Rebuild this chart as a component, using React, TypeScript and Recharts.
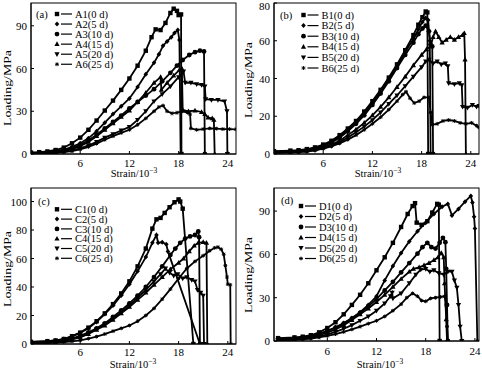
import React from 'react';
import { LineChart, Line, XAxis, YAxis } from 'recharts';

type P = [number, number];

// ---------- Panel (a) ----------
const A1: P[] = [[0,1],[1,1.3],[2,1.8],[3,2.8],[4,4.5],[5,7.5],[6,11.5],[7,17],[8,23.5],[9,30.5],[10,37.5],[11,45],[12,53],[13,62],[14,72.5],[14.7,82],[15.2,87.5],[15.8,87],[16.4,92],[17.0,99],[17.4,102],[17.8,100.5],[18.0,97.5],[18.3,98],[18.35,0]];
const A2: P[] = [[0,0.8],[2,1.3],[3,2],[4,3],[5,5],[6,7.5],[7,11],[8,16],[9,22],[10,28],[11,33.5],[12,39],[13,47],[14,56],[15,64],[15.6,70],[16.1,76],[16.6,79],[17.1,82],[17.5,85],[17.9,87],[18.1,80],[18.25,0]];
const A3: P[] = [[0,0.6],[2,1],[3,1.6],[4,2.5],[5,4],[6,6.5],[7,9.5],[8,13.5],[9,18],[10,22.5],[11,27],[12,32],[13,36.5],[14,41],[15,45.5],[16,51],[17,57],[17.8,62],[18.5,66],[19.3,69.5],[20.0,71.5],[20.6,72.5],[21.1,72],[21.2,0]];
const A4: P[] = [[0,0.5],[2,0.9],[3,1.5],[4,2.3],[5,3.5],[6,5.5],[7,8.5],[8,12.5],[9,17],[10,21.5],[11,26],[12,30.5],[13,36.5],[14,43],[15,50],[15.8,54],[15.9,45],[16.6,50],[17.4,55],[18.1,59],[18.4,60],[18.5,31],[19.2,30],[20.0,30.5],[20.8,29.5],[21.2,28],[21.6,25.5],[22.1,25],[22.3,24],[22.4,0]];
const A5: P[] = [[0,0.3],[2,0.6],[3,1],[4,1.6],[5,2.6],[6,4],[7,6],[8,8.5],[9,11.5],[10,14],[11,16.5],[12,19],[13,24],[14,30],[15,37],[16,42],[17,47.5],[18,54],[18.6,58],[18.8,50],[19.5,50],[20.2,49],[20.8,48.5],[21.2,47.5],[21.3,38.5],[22.0,38],[22.8,38],[23.6,37],[23.9,30],[23.95,0]];
const A6: P[] = [[0,0.3],[2,0.5],[3,0.8],[4,1.3],[5,2],[6,3.3],[7,5],[8,7.3],[9,10],[10,12.5],[11,14.8],[12,17],[13,20.5],[14,25],[15,30],[15.6,33],[16.1,34],[16.6,30],[17.2,28.5],[17.8,29],[18.5,30],[19.1,29],[19.4,28],[19.5,18],[20.2,17],[21,17.5],[21.8,18],[22.6,17.8],[23.4,17.5],[24.2,17.5],[25,17.3]];
const aNames = ['A1(0 d)', 'A2(5 d)', 'A3(10 d)', 'A4(15 d)', 'A5(20 d)', 'A6(25 d)'];

// ---------- Panel (b) ----------
const B1: P[] = [[0,1.5],[2,1.8],[3,2],[4,2.6],[5,3.5],[6,5],[7,7],[8,10],[9,13.5],[10,17.5],[11,22.5],[12,28],[13,34],[14,40.5],[15,47.5],[16,55],[17,63],[17.6,68.5],[18.1,72.5],[18.5,75.5],[18.7,75],[18.8,0]];
const B2: P[] = [[0,1.2],[2,1.5],[3,1.8],[4,2.3],[5,3.2],[6,4.6],[7,6.5],[8,9.3],[9,12.8],[10,16.8],[11,21.5],[12,27],[13,33],[14,39.5],[15,46.5],[16,54],[17,61],[17.6,66],[18.1,70],[18.5,72],[18.8,71],[19.0,60],[19.1,0]];
const B3: P[] = [[0,1],[2,1.3],[3,1.6],[4,2.1],[5,3],[6,4.2],[7,6],[8,8.6],[9,12],[10,16],[11,20.5],[12,26],[13,32],[14,38.5],[15,45.5],[16,52.5],[17,59],[17.6,63.5],[18.1,66.5],[18.5,68],[18.9,65],[19.1,58],[19.3,57],[19.4,0]];
const B4: P[] = [[0,1],[2,1.2],[3,1.4],[4,1.8],[5,2.5],[6,3.5],[7,5],[8,7],[9,10],[10,13],[11,16.5],[12,20.5],[13,25],[14,30],[15,35.5],[16,41],[17,47],[18,52.5],[18.6,55.5],[19.1,57],[19.4,62],[19.7,65],[20.1,62],[20.5,59],[21.0,60.5],[21.5,62],[22.0,60.5],[22.5,62],[23.0,63],[23.2,64],[23.3,50],[23.4,0]];
const B5: P[] = [[0,0.8],[2,1],[3,1.2],[4,1.5],[5,2.1],[6,3],[7,4.4],[8,6.3],[9,8.7],[10,11.5],[11,14.5],[12,18],[13,22],[14,26.5],[15,31],[16,36],[17,41],[18,46],[18.5,49],[18.9,50],[19.4,48],[19.9,49],[20.4,47.5],[20.9,48],[21.2,46.5],[21.3,37.5],[22.0,37],[22.6,37.5],[22.9,36.5],[23.0,25],[23.6,24.5],[24.2,26],[24.7,25],[25,25.5]];
const B6: P[] = [[0,0.5],[2,0.8],[3,1],[4,1.3],[5,1.9],[6,2.8],[7,4],[8,5.6],[9,7.6],[10,10],[11,12.8],[12,16],[13,19.5],[14,23.5],[15,28],[15.7,31.5],[16.1,33],[16.6,29.5],[17.1,27],[17.7,28],[18.3,30],[18.9,30],[19.1,22],[19.3,15.5],[19.9,16],[20.6,17.5],[21.3,18],[22.0,17.5],[22.7,16.5],[23.4,16],[24.1,16.5],[24.7,15],[25,14]];
const bNames = ['B1(0 d)', 'B2(5 d)', 'B3(10 d)', 'B4(15 d)', 'B5(20 d)', 'B6(25 d)'];

// ---------- Panel (c) ----------
const C1: P[] = [[0,1.5],[2,2],[3,2.5],[4,3.5],[5,5.5],[6,8],[7,11.5],[8,16],[9,21.5],[10,28],[11,35.5],[12,44],[13,54.5],[14,67],[14.8,81],[15.3,87.5],[15.8,88.5],[16.3,92],[16.9,96],[17.5,99.5],[18.0,101.5],[18.2,100],[18.5,95],[19.8,0]];
const C2: P[] = [[0,1.5],[2,2],[3,2.5],[4,3.5],[5,5.3],[6,7.8],[7,11],[8,15.5],[9,21],[10,27],[11,34],[12,42],[13,51],[14,61],[14.8,71],[15.3,76.5],[15.5,71],[16.0,71.5],[16.5,70],[16.7,65],[20.6,0]];
const C3: P[] = [[0,1],[2,1.3],[3,1.8],[4,2.7],[5,4],[6,5.8],[7,8.2],[8,11],[9,14.5],[10,19],[11,23.5],[12,28.5],[13,34],[14,40],[15,47],[16,54.5],[17,62.5],[17.6,67],[18.2,71],[18.8,74],[19.4,75.5],[20.0,76.5],[20.4,79],[20.5,75],[20.6,0]];
const C4: P[] = [[0,0.8],[2,1.1],[3,1.5],[4,2.2],[5,3.2],[6,4.6],[7,7],[8,10],[9,13],[10,17],[11,21.5],[12,26],[13,31],[14,36],[15,41.5],[16,47],[17,52.5],[18,57],[18.6,60],[19.3,65],[19.9,69],[20.4,71],[21.0,71.5],[21.4,71],[21.5,0]];
const C5: P[] = [[0,0.8],[2,1.1],[3,1.5],[4,2.3],[5,3.4],[6,5],[7,7.5],[8,10.5],[9,14],[10,18],[11,22],[12,27],[13,32.5],[14,38],[15,44],[15.8,49],[16.4,53],[16.9,50],[17.4,48],[17.9,49],[18.5,46],[19.0,47],[19.6,45],[20.0,44],[20.3,38],[20.7,36],[21.0,34],[21.1,0]];
const C6: P[] = [[0,0.5],[2,0.7],[3,1],[4,1.4],[5,1.9],[6,2.6],[7,3.8],[8,5.2],[9,7],[10,9],[11,11],[12,13],[13,16],[14,20],[15,25],[16,31.5],[17,38.5],[18,46],[19,53],[20,58],[21,62],[21.8,65.5],[22.4,67.5],[22.8,68],[23.2,66.5],[23.5,63],[23.7,55],[23.9,47],[24.0,42],[24.3,41.5],[24.35,0]];
const cNames = ['C1(0 d)', 'C2(5 d)', 'C3(10 d)', 'C4(15 d)', 'C5(20 d)', 'C6(25 d)'];

// ---------- Panel (d) ----------
const D1: P[] = [[0,2],[2,2.5],[3,3],[4,4],[5,6],[6,9],[7,13],[8,18.5],[9,25],[10,32],[11,40],[12,49],[13,58],[14,68],[15,79],[15.8,88],[16.4,93.5],[16.7,95.5],[16.9,82],[17.5,80.5],[18.2,83],[18.8,89],[19.4,95],[19.6,94.5],[19.7,0]];
const D2: P[] = [[0,1.5],[2,2],[3,2.5],[4,3.5],[5,5],[6,7],[7,9.5],[8,12.5],[9,16],[10,20],[11,25],[12,31],[13,42],[14,52],[15,61],[16,69],[17,76],[18,82],[19,88],[20,93],[20.7,95],[21.2,87],[22,91.5],[22.8,96.5],[23.5,100.5],[23.7,96],[23.9,86],[24.0,78],[24.3,0]];
const D3: P[] = [[0,1.5],[2,2],[3,2.5],[4,3.3],[5,4.8],[6,6.8],[7,9.2],[8,12],[9,15.5],[10,19.5],[11,24],[12,29],[13,35],[14,41],[15,47.5],[16,54],[17,60.5],[17.6,65],[18.2,68],[18.7,65],[19.2,64],[19.7,68],[20.1,71.5],[20.4,68.5],[20.5,50],[20.6,25],[20.7,0]];
const D4: P[] = [[0,1],[2,1.4],[3,1.9],[4,2.7],[5,4],[6,5.7],[7,8],[8,11],[9,14.5],[10,18.5],[11,22.5],[12,27],[13,32],[14,37.5],[15,43],[16,48],[16.5,50],[17.2,51],[17.8,52.5],[18.4,54],[19,56],[19.5,58],[19.9,61],[20.2,58],[20.3,40],[20.5,15],[20.6,0]];
const D5: P[] = [[0,0.8],[2,1.1],[3,1.5],[4,2.2],[5,3.2],[6,4.5],[7,6.3],[8,8.5],[9,11],[10,14],[11,17],[12,21],[13,26],[13.7,31],[13.9,33.5],[14.0,29.5],[15,33],[16,40],[16.8,46],[17.4,49.5],[18,50],[18.5,48],[19,49],[19.6,47],[20.2,46],[20.7,48],[21.2,48],[21.5,42],[21.8,37],[22.0,25],[22.2,10],[22.4,0]];
const D6: P[] = [[0,0.5],[2,0.8],[3,1.1],[4,1.7],[5,2.5],[6,3.5],[7,4.8],[8,6.3],[9,8],[10,10],[11,12],[12,14],[13,17],[14,21],[15,25.5],[15.7,30],[16.4,33],[17.0,31],[17.5,28],[18.0,27.5],[18.6,29.5],[19.2,30],[19.8,30.5],[20.3,31],[20.5,25],[20.6,10],[20.7,0]];
const dNames = ['D1(0 d)', 'D2(5 d)', 'D3(10 d)', 'D4(15 d)', 'D5(20 d)', 'D6(25 d)'];

// ---------- Axis ticks ----------
const xTicks = [6, 12, 18, 24];
const aYTicks = [0, 30, 60, 90];
const bYTicks = [0, 20, 40, 60, 80];
const cYTicks = [0, 20, 40, 60, 80, 100];
const dYTicks = [0, 30, 60, 90];

const markerKinds = ['square', 'diamond', 'circle', 'up', 'down', 'star'];
const FONT = "'Liberation Serif', 'Times New Roman', serif";
const W = 482;
const H = 369;
const YW = 30;
const XH = 20;

const Marker = ({ cx, cy, kind }: { cx?: number; cy?: number; kind: string }) => {
  if (cx == null || cy == null || isNaN(cx) || isNaN(cy)) return null;
  switch (kind) {
    case 'square':
      return <rect x={cx - 2.2} y={cy - 2.2} width={4.4} height={4.4} fill="#000" />;
    case 'diamond':
      return <path d={`M${cx},${cy - 2.5}L${cx + 2.3},${cy}L${cx},${cy + 2.5}L${cx - 2.3},${cy}Z`} fill="#000" />;
    case 'circle':
      return <circle cx={cx} cy={cy} r={2.4} fill="#000" />;
    case 'up':
      return <path d={`M${cx},${cy - 2.8}L${cx + 2.6},${cy + 1.9}L${cx - 2.6},${cy + 1.9}Z`} fill="#000" />;
    case 'down':
      return <path d={`M${cx},${cy + 2.8}L${cx + 2.6},${cy - 1.9}L${cx - 2.6},${cy - 1.9}Z`} fill="#000" />;
    default:
      return (
        <path
          d={`M${cx - 1.9},${cy}H${cx + 1.9}M${cx},${cy - 1.9}V${cy + 1.9}M${cx - 1.4},${cy - 1.4}L${cx + 1.4},${cy + 1.4}M${cx - 1.4},${cy + 1.4}L${cx + 1.4},${cy - 1.4}`}
          stroke="#000"
          strokeWidth={1}
        />
      );
  }
};

interface PanelCfg {
  series: P[][];
  names: string[];
  left: number;
  right: number;
  top: number;
  bottom: number;
  xDomain: [number, number];
  yDomain: [number, number];
  yTicks: number[];
  tickDy: number;
}

const XTick = (props: any) => {
  const { x, y, payload, dy } = props;
  return (
    <g>
      <line x1={x} x2={x} y1={y} y2={y - 3} stroke="#000" />
      <text x={x} y={y + dy} textAnchor="middle" fontSize={11} fontFamily={FONT} fill="#000">
        {payload.value}
      </text>
    </g>
  );
};

const YTick = (props: any) => {
  const { x, y, payload } = props;
  return (
    <g>
      <line x1={x} x2={x + 3} y1={y} y2={y} stroke="#000" />
      <text x={x - 4} y={Math.max(y + 4, 10)} textAnchor="end" fontSize={11} fontFamily={FONT} fill="#000">
        {payload.value}
      </text>
    </g>
  );
};

const Panel = ({ cfg }: { cfg: PanelCfg }) => {
  const margin = {
    top: cfg.top,
    right: W - cfg.right,
    bottom: H - cfg.bottom - XH,
    left: cfg.left - YW,
  };
  return (
    <div style={{ position: 'absolute', left: 0, top: 0 }}>
      <LineChart width={W} height={H} margin={margin}>
        <XAxis
          type="number"
          dataKey="x"
          domain={cfg.xDomain}
          ticks={xTicks}
          allowDataOverflow
          height={XH}
          tickSize={0}
          tickMargin={0}
          tickLine={false}
          axisLine={{ stroke: '#000' }}
          tick={(p: any) => <XTick {...p} dy={cfg.tickDy} />}
          interval={0}
        />
        <YAxis
          type="number"
          dataKey="y"
          domain={cfg.yDomain}
          ticks={cfg.yTicks}
          allowDataOverflow
          width={YW}
          tickSize={0}
          tickMargin={0}
          tickLine={false}
          axisLine={{ stroke: '#000' }}
          tick={(p: any) => <YTick {...p} />}
          interval={0}
        />
        {cfg.series.map((s, i) => (
          <Line
            key={cfg.names[i]}
            data={s.map(([x, y]) => ({ x, y }))}
            dataKey="y"
            type="linear"
            stroke="#000"
            strokeWidth={1.8}
            isAnimationActive={false}
            dot={(p: any) => <Marker key={`m${i}-${p.index}`} cx={p.cx} cy={p.cy} kind={markerKinds[i]} />}
            activeDot={false}
          />
        ))}
      </LineChart>
    </div>
  );
};

const panels: PanelCfg[] = [
  { series: [A1, A2, A3, A4, A5, A6], names: aNames, left: 31, right: 236, top: 3, bottom: 154, xDomain: [0, 25], yDomain: [0, 106], yTicks: aYTicks, tickDy: 13 },
  { series: [B1, B2, B3, B4, B5, B6], names: bNames, left: 274, right: 479, top: 3, bottom: 154, xDomain: [0, 25], yDomain: [0, 80], yTicks: bYTicks, tickDy: 13 },
  { series: [C1, C2, C3, C4, C5, C6], names: cNames, left: 31, right: 236, top: 188, bottom: 344, xDomain: [0, 25], yDomain: [0, 109.5], yTicks: cYTicks, tickDy: 12 },
  { series: [D1, D2, D3, D4, D5, D6], names: dNames, left: 274, right: 479, top: 188, bottom: 341, xDomain: [-0.5, 24.5], yDomain: [0, 106], yTicks: dYTicks, tickDy: 14 },
];

interface Deco {
  letter: string;
  letterX: number;
  letterY: number;
  legendX: number;
  legendY0: number;
  legendDy: number;
  titleX: number;
  titleY: number;
  yTitleX: number;
  yTitleY: number;
}

const decos: Deco[] = [
  { letter: '(a)', letterX: 36, letterY: 17.5, legendX: 57, legendY0: 14, legendDy: 10.05, titleX: 134, titleY: 177, yTitleX: 10.5, yTitleY: 88 },
  { letter: '(b)', letterX: 280, letterY: 18.5, legendX: 303.5, legendY0: 15, legendDy: 10.6, titleX: 378, titleY: 177, yTitleX: 252, yTitleY: 80 },
  { letter: '(c)', letterX: 38, letterY: 205, legendX: 57, legendY0: 209.3, legendDy: 9.8, titleX: 133, titleY: 368, yTitleX: 10.5, yTitleY: 269 },
  { letter: '(d)', letterX: 281, letterY: 204, legendX: 301, legendY0: 206, legendDy: 10.5, titleX: 380, titleY: 368, yTitleX: 252, yTitleY: 275 },
];

const Overlay = () => (
  <svg width={W} height={H} style={{ position: 'absolute', left: 0, top: 0, pointerEvents: 'none' }}>
    {panels.map((p, pi) => {
      const d = decos[pi];
      return (
        <g key={pi} fontFamily={FONT} fill="#000">
          <rect x={p.left} y={p.top} width={p.right - p.left} height={p.bottom - p.top} fill="none" stroke="#000" strokeWidth={1} />
          <text x={d.letterX} y={d.letterY} fontSize={10.5}>{d.letter}</text>
          {p.names.map((n, i) => {
            const cy = d.legendY0 + i * d.legendDy;
            return (
              <g key={n}>
                <Marker cx={d.legendX} cy={cy} kind={markerKinds[i]} />
                <line x1={d.legendX + 4} x2={d.legendX + 15} y1={cy} y2={cy} stroke="#000" strokeWidth={1.2} />
                <text x={d.legendX + 18} y={cy + 3.6} fontSize={10.5}>{n}</text>
              </g>
            );
          })}
          <text x={d.titleX} y={d.titleY} fontSize={10.5} textAnchor="middle">
            Strain/10<tspan fontSize={7.5} dy={-4}>−3</tspan>
          </text>
          <text
            transform={`translate(${d.yTitleX},${d.yTitleY}) rotate(-90)`}
            fontSize={11}
            textAnchor="middle"
            textLength={76}
            lengthAdjust="spacingAndGlyphs"
          >
            Loading/MPa
          </text>
        </g>
      );
    })}
  </svg>
);

export default function App() {
  return (
    <div style={{ position: 'absolute', left: 0, top: 0, width: W, height: H, background: '#fff', overflow: 'hidden' }}>
      {panels.map((p, i) => (
        <Panel key={i} cfg={p} />
      ))}
      <Overlay />
    </div>
  );
}
